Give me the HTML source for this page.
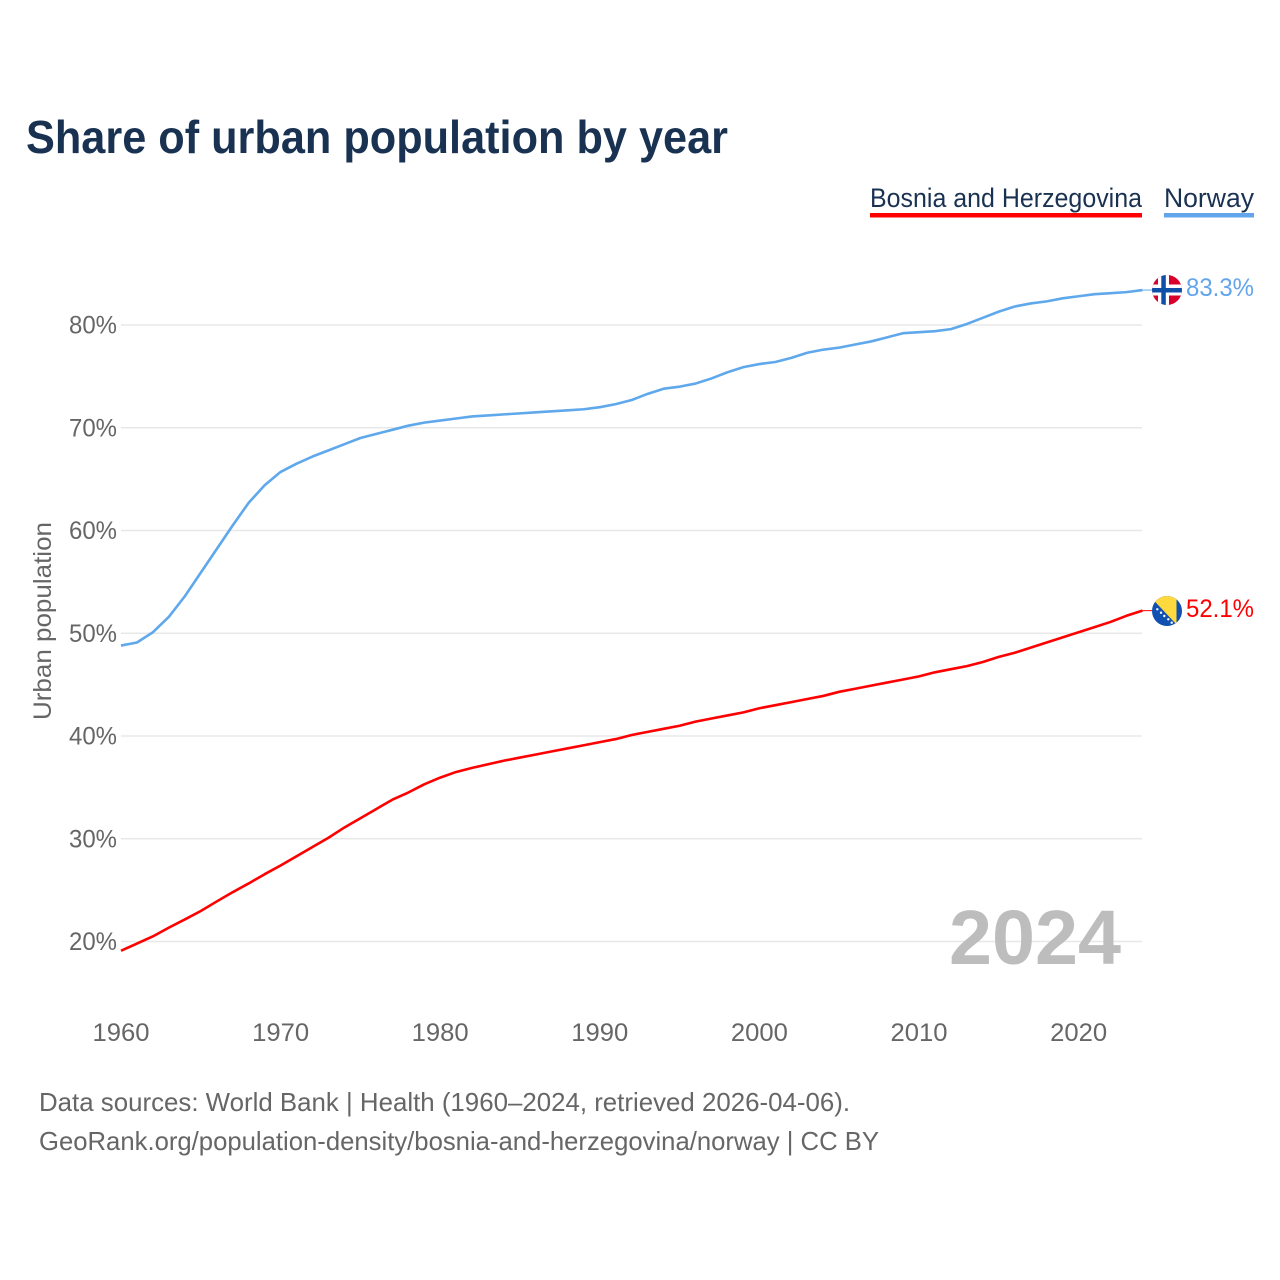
<!DOCTYPE html>
<html lang="en">
<head>
<meta charset="utf-8">
<title>Share of urban population by year</title>
<style>
html,body{margin:0;padding:0;background:#fff;width:1280px;height:1280px;overflow:hidden}
svg{display:block}
text{font-family:"Liberation Sans",sans-serif}
</style>
</head>
<body>
<svg id="chart" xmlns="http://www.w3.org/2000/svg" width="1280" height="1280" viewBox="0 0 1280 1280">
  <defs>
    <clipPath id="clip-no"><circle cx="1167" cy="290" r="15"></circle></clipPath>
    <clipPath id="clip-ba"><circle cx="1167" cy="611" r="15"></circle></clipPath>
  </defs>
  <text x="26" y="153" font-size="46" font-weight="700" fill="#1a3252" textLength="702" lengthAdjust="spacingAndGlyphs">Share of urban population by year</text>

  <g>
    <g>
      <text x="870" y="207" font-size="27" fill="#1a3252" textLength="272" lengthAdjust="spacingAndGlyphs">Bosnia and Herzegovina</text>
      <rect x="870" y="213" width="272" height="4.5" fill="#ff0000"></rect>
    </g>
    <g>
      <text x="1164" y="207" font-size="27" fill="#1a3252" textLength="90" lengthAdjust="spacingAndGlyphs">Norway</text>
      <rect x="1164" y="213" width="90" height="4.5" fill="#63a5ea"></rect>
    </g>
  </g>

  <g id="grid"></g>
  <g id="yticks"></g>
  <g id="xticks"></g>
  <text transform="translate(51 621) rotate(-90)" text-anchor="middle" font-size="25" fill="#666666" textLength="198" lengthAdjust="spacingAndGlyphs">Urban population</text>

  <text x="949" y="964" font-size="77" font-weight="700" fill="#bdbdbd" textLength="172" lengthAdjust="spacingAndGlyphs">2024</text>

  <g id="series"></g>

  <g clip-path="url(#clip-no)">
    <rect x="1152" y="275" width="30" height="30" fill="#d8002b"></rect>
    <rect x="1152" y="284.5" width="30" height="11" fill="#ffffff"></rect>
    <rect x="1158" y="275" width="11" height="30" fill="#ffffff"></rect>
    <rect x="1152" y="288" width="30" height="4.5" fill="#0f4fa8"></rect>
    <rect x="1161.3" y="275" width="4.5" height="30" fill="#0f4fa8"></rect>
  </g>
  <g clip-path="url(#clip-ba)">
    <rect x="1152" y="596" width="30" height="30" fill="#0f50b0"></rect>
    <polygon points="1149.6,596 1176.5,596 1176.5,624.5" fill="#ffd83d"></polygon>
    <g fill="#ffffff">
      <circle cx="1157.3" cy="609.3" r="1.2"></circle>
      <circle cx="1161" cy="612.7" r="1.2"></circle>
      <circle cx="1164.3" cy="616" r="1.2"></circle>
      <circle cx="1168.3" cy="619.3" r="1.2"></circle>
      <circle cx="1171.7" cy="622.7" r="1.2"></circle>
    </g>
  </g>
  <text x="1186" y="296" font-size="25" fill="#63a5ea" textLength="68" lengthAdjust="spacingAndGlyphs">83.3%</text>
  <text x="1186" y="617" font-size="25" fill="#ff0000" textLength="68" lengthAdjust="spacingAndGlyphs">52.1%</text>

  <text x="39" y="1111" font-size="26" fill="#666666" textLength="811" lengthAdjust="spacingAndGlyphs">Data sources: World Bank | Health (1960–2024, retrieved 2026-04-06).</text>
  <text x="39" y="1150" font-size="26" fill="#666666" textLength="840" lengthAdjust="spacingAndGlyphs">GeoRank.org/population-density/bosnia-and-herzegovina/norway | CC BY</text>
</svg>
<script>
const startYear = 1960;
const norwayValues = [48.8,49.1,50.1,51.6,53.6,55.9,58.2,60.5,62.7,64.4,65.7,66.5,67.2,67.8,68.4,69.0,69.4,69.8,70.2,70.5,70.7,70.9,71.1,71.2,71.3,71.4,71.5,71.6,71.7,71.8,72.0,72.3,72.7,73.3,73.8,74.0,74.3,74.8,75.4,75.9,76.2,76.4,76.8,77.3,77.6,77.8,78.1,78.4,78.8,79.2,79.3,79.4,79.6,80.1,80.7,81.3,81.8,82.1,82.3,82.6,82.8,83.0,83.1,83.2,83.4];
const bosniaValues = [19.1,19.8,20.5,21.35,22.15,22.97,23.9,24.8,25.65,26.55,27.4,28.3,29.2,30.1,31.1,32.0,32.9,33.8,34.5,35.3,35.95,36.5,36.9,37.25,37.6,37.9,38.2,38.5,38.8,39.1,39.4,39.7,40.1,40.4,40.7,41.0,41.4,41.7,42.0,42.3,42.7,43.0,43.3,43.6,43.9,44.3,44.6,44.9,45.2,45.5,45.8,46.2,46.5,46.8,47.2,47.7,48.1,48.6,49.1,49.6,50.1,50.6,51.1,51.7,52.2];
const yTickValues = [20,30,40,50,60,70,80];
const xTickYears = [1960,1970,1980,1990,2000,2010,2020];

const NS = 'http://www.w3.org/2000/svg';
function xScale(year){ return 121 + (year - 1960) * 15.96; }
function yScale(pct){ return 941.5 - (pct - 20) * 10.275; }
function mk(tag, parent, attrs){
  const el = document.createElementNS(NS, tag);
  for (const k in attrs) el.setAttribute(k, attrs[k]);
  parent.appendChild(el);
  return el;
}
const grid = document.getElementById('grid');
const yticks = document.getElementById('yticks');
const xticks = document.getElementById('xticks');
const series = document.getElementById('series');

yTickValues.forEach(function(v){
  const line = mk('line', grid, {x1:121, x2:1142, y1:yScale(v), y2:yScale(v), stroke:'#e8e8e8', 'stroke-width':1.6});
  
  
  const t = mk('text', yticks, {x:117, y:yScale(v) + 8.5, 'text-anchor':'end', 'font-size':25, fill:'#666666', textLength:48, lengthAdjust:'spacingAndGlyphs'});
  t.textContent = v + '%';
  
  
});
xTickYears.forEach(function(y){
  const t = mk('text', xticks, {x:xScale(y), y:1041, 'text-anchor':'middle', 'font-size':25, fill:'#666666', textLength:57, lengthAdjust:'spacingAndGlyphs'});
  t.textContent = String(y);
  
  
});
function linePath(values){
  return values.map(function(v, i){
    return (i ? 'L' : 'M') + xScale(startYear + i).toFixed(2) + ' ' + yScale(v).toFixed(2);
  }).join(' ');
}
function lastPoint(values){
  return {x: xScale(startYear + values.length - 1), y: yScale(values[values.length - 1])};
}
const bosniaLine = mk('path', series, {d:linePath(bosniaValues), fill:'none', stroke:'#ff0000', 'stroke-width':2.6, 'stroke-linejoin':'round'});


const norwayLine = mk('path', series, {d:linePath(norwayValues), fill:'none', stroke:'#5fa8ec', 'stroke-width':2.6, 'stroke-linejoin':'round'});


const pb = lastPoint(bosniaValues);
const bosniaLead = mk('line', series, {x1:pb.x, x2:pb.x + 10, y1:pb.y, y2:pb.y, stroke:'#ff0000', 'stroke-width':1});


const pn = lastPoint(norwayValues);
const norwayLead = mk('line', series, {x1:pn.x, x2:pn.x + 10, y1:pn.y, y2:pn.y, stroke:'#5fa8ec', 'stroke-width':1});


</script>
</body>
</html>
